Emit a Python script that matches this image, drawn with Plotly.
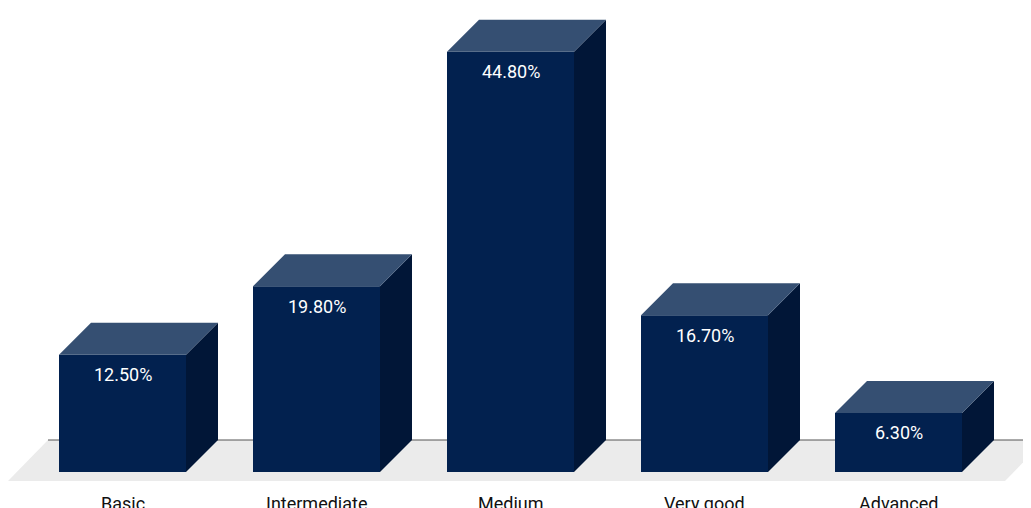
import plotly.graph_objects as go

categories = ["Basic", "Intermediate", "Medium", "Very good", "Advanced"]
values = [12.5, 19.8, 44.8, 16.7, 6.3]
value_labels = ["12.50%", "19.80%", "44.80%", "16.70%", "6.30%"]

# style / geometry constants (page body has an 8px margin -> shift everything)
OFF = 8
W, H = 1031 - OFF, 508 - OFF
PX_PER_CAT = 194.0
X0_PX = 122.5 - OFF
PX_PER_UNIT = 9.38
BASE_PX = 472.0 - OFF
BAR_W = 127.0 / PX_PER_CAT
DX = 32.0 / PX_PER_CAT
DY = 32.0 / PX_PER_UNIT

FRONT = "#02214f"
TOP = "#354f72"
SIDE = "#011637"
FLOOR = "#ebebeb"

x_range = [-X0_PX / PX_PER_CAT, (W - X0_PX) / PX_PER_CAT]
y_range = [-(H - BASE_PX) / PX_PER_UNIT, BASE_PX / PX_PER_UNIT]

fig = go.Figure()

# floor (below everything)
fl_front = -9.0 / PX_PER_UNIT
fl_left_front = x_range[0]
fl_right_front = x_range[0] + (1005 - OFF) / PX_PER_CAT
fdx = 40.0 / PX_PER_CAT
fig.add_shape(type="path", xref="x", yref="y", layer="below",
              path=(f"M {fl_left_front},{fl_front} L {fl_right_front},{fl_front} "
                    f"L {fl_right_front + fdx},{DY} L {fl_left_front + fdx},{DY} Z"),
              fillcolor=FLOOR, line=dict(width=0))
fig.add_shape(type="line", xref="x", yref="y", layer="below",
              x0=fl_left_front + fdx, x1=x_range[1] + 1, y0=DY, y1=DY,
              line=dict(color="#555555", width=1))

xs = list(range(len(categories)))

# front faces
fig.add_trace(go.Bar(x=xs, y=values, width=BAR_W, marker=dict(color=FRONT, line=dict(width=0)),
                     showlegend=False, hoverinfo="skip"))

# side and top faces
for i, v in zip(xs, values):
    l, r = i - BAR_W / 2, i + BAR_W / 2
    fig.add_trace(go.Scatter(
        x=[r, r + DX, r + DX, r, r], y=[0, DY, v + DY, v, 0],
        fill="toself", fillcolor=SIDE, line=dict(width=0), mode="lines",
        hoverinfo="skip", showlegend=False))
    fig.add_trace(go.Scatter(
        x=[l, r, r + DX, l + DX, l], y=[v, v, v + DY, v + DY, v],
        fill="toself", fillcolor=TOP, line=dict(width=0), mode="lines",
        hoverinfo="skip", showlegend=False))

for i, v, t in zip(xs, values, value_labels):
    fig.add_annotation(x=i, y=v, text=t, showarrow=False, yanchor="middle",
                       yshift=-20, font=dict(color="white", size=18, family="Roboto"))

label_y = -(491 - OFF - BASE_PX) / PX_PER_UNIT
for i, c in zip(xs, categories):
    fig.add_annotation(x=i, y=label_y, text=c, showarrow=False, yanchor="top",
                       font=dict(color="#111111", size=18, family="Roboto"))

fig.update_layout(
    width=W, height=H, margin=dict(l=0, r=0, t=0, b=0),
    paper_bgcolor="white", plot_bgcolor="rgba(0,0,0,0)",
    xaxis=dict(range=x_range, visible=False, fixedrange=True),
    yaxis=dict(range=y_range, visible=False, fixedrange=True),
    barmode="overlay",
)

fig.write_html("out.html")
